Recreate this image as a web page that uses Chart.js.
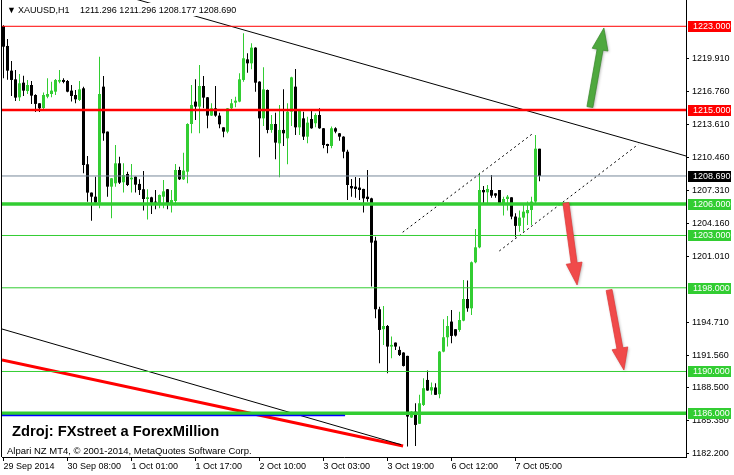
<!DOCTYPE html>
<html>
<head>
<meta charset="utf-8">
<script src="https://cdn.jsdelivr.net/npm/chart.js@4.4.1/dist/chart.umd.min.js"></script>
<style>
  html, body { margin: 0; padding: 0; background: #fff; }
</style>
</head>
<body>
<canvas id="xau" width="734" height="475"></canvas>
<script>
// XAUUSD H1 candles, one entry per bar (bar 0 = left edge)
const openP = [
  1223.03, 1221.12, 1218.76, 1217.93, 1216.21, 1217.61, 1216.81, 1217.39, 1216.43, 1215.64,
  1215.19, 1216.27, 1216.53, 1216.75, 1217.71, 1217.87, 1217.77, 1216.85, 1216.43, 1215.96,
  1217.07, 1209.81, 1207.10, 1206.71, 1206.14, 1217.23, 1212.93, 1207.67, 1207.99, 1209.90,
  1208.09, 1208.88, 1208.37, 1208.62, 1207.93, 1207.42, 1206.49, 1206.65, 1206.20, 1206.01,
  1206.71, 1207.42, 1206.08, 1206.30, 1209.26, 1208.37, 1209.10, 1213.66, 1215.80, 1215.32,
  1217.29, 1216.21, 1214.46, 1215.16, 1214.46, 1213.34, 1212.93, 1215.16, 1215.70, 1215.80,
  1217.87, 1219.84, 1219.46, 1220.96, 1217.71, 1214.20, 1216.91, 1213.09, 1213.66, 1211.81,
  1213.09, 1212.29, 1214.84, 1217.23, 1213.34, 1214.20, 1212.45, 1214.14, 1213.73, 1214.52,
  1213.25, 1211.75, 1211.56, 1213.25, 1212.77, 1212.45, 1211.01, 1207.73, 1207.67, 1207.58,
  1207.45, 1206.71, 1206.55, 1202.51, 1195.95, 1194.04, 1194.35, 1192.38, 1192.76, 1192.06,
  1191.81, 1191.49, 1185.60, 1186.16, 1185.00, 1186.80, 1189.19, 1188.18, 1188.47, 1187.83,
  1191.90, 1193.27, 1194.77, 1194.04, 1193.97, 1194.86, 1196.93, 1196.04, 1200.44, 1201.87,
  1207.35, 1207.13, 1207.35, 1207.03, 1207.35, 1206.08, 1206.49, 1206.65, 1204.81, 1203.92,
  1204.71, 1205.13, 1205.44, 1206.24, 1211.296
];
const highP = [
  1223.10, 1221.79, 1219.68, 1218.82, 1218.44, 1218.28, 1217.87, 1217.77, 1216.50, 1215.64,
  1216.66, 1218.03, 1217.71, 1217.96, 1218.82, 1218.03, 1217.87, 1217.39, 1216.91, 1217.77,
  1217.23, 1210.60, 1207.12, 1208.62, 1220.10, 1218.25, 1212.95, 1208.50, 1211.65, 1210.54,
  1209.90, 1209.10, 1209.84, 1208.65, 1208.37, 1209.17, 1207.42, 1206.70, 1207.35, 1206.92,
  1208.31, 1207.45, 1207.35, 1209.84, 1209.58, 1210.92, 1213.72, 1217.39, 1217.93, 1219.30,
  1218.25, 1216.25, 1215.64, 1217.29, 1214.74, 1213.36, 1215.20, 1216.05, 1216.27, 1218.50,
  1222.33, 1220.42, 1221.37, 1221.00, 1217.75, 1219.08, 1216.95, 1214.52, 1214.74, 1215.48,
  1216.97, 1215.64, 1218.18, 1218.92, 1215.05, 1214.84, 1214.36, 1215.00, 1214.68, 1215.16,
  1213.27, 1211.78, 1213.41, 1213.34, 1212.80, 1212.48, 1211.20, 1208.40, 1208.60, 1208.50,
  1207.47, 1209.26, 1206.60, 1202.89, 1196.20, 1196.26, 1194.45, 1193.34, 1192.76, 1192.38,
  1191.85, 1191.50, 1186.20, 1186.96, 1187.77, 1189.36, 1190.09, 1188.94, 1188.88, 1191.95,
  1194.99, 1195.31, 1195.88, 1194.04, 1195.72, 1198.75, 1198.69, 1200.51, 1203.63, 1209.01,
  1207.74, 1207.83, 1208.78, 1207.03, 1207.35, 1206.71, 1206.87, 1206.65, 1205.13, 1205.38,
  1205.92, 1206.24, 1206.71, 1212.60, 1211.296
];
const lowP = [
  1218.03, 1217.90, 1216.34, 1215.86, 1215.86, 1216.34, 1216.53, 1215.58, 1214.80, 1214.80,
  1215.06, 1216.11, 1216.21, 1216.43, 1217.55, 1217.55, 1216.70, 1215.80, 1215.64, 1215.86,
  1208.94, 1206.23, 1204.42, 1206.10, 1205.60, 1212.07, 1206.71, 1204.64, 1207.67, 1207.93,
  1207.10, 1207.73, 1207.10, 1207.10, 1206.87, 1205.38, 1204.54, 1205.06, 1205.50, 1205.60,
  1205.60, 1205.50, 1205.19, 1205.90, 1208.31, 1208.31, 1207.99, 1212.77, 1214.04, 1212.77,
  1215.16, 1213.25, 1214.43, 1214.36, 1213.25, 1212.39, 1212.77, 1215.00, 1215.25, 1215.75,
  1217.71, 1218.57, 1218.89, 1216.75, 1210.47, 1213.47, 1212.77, 1212.83, 1210.28, 1208.56,
  1211.56, 1209.81, 1213.47, 1212.61, 1212.61, 1212.13, 1211.81, 1213.20, 1213.34, 1213.20,
  1211.33, 1210.86, 1211.33, 1212.77, 1212.07, 1210.38, 1206.40, 1206.70, 1206.60, 1206.40,
  1205.19, 1206.23, 1198.12, 1195.08, 1190.79, 1192.54, 1189.83, 1191.27, 1192.06, 1191.49,
  1190.47, 1182.82, 1185.55, 1182.88, 1184.98, 1186.71, 1188.15, 1187.77, 1187.75, 1187.45,
  1191.85, 1192.38, 1192.70, 1193.34, 1193.81, 1194.80, 1195.72, 1195.40, 1200.34, 1201.78,
  1206.08, 1206.08, 1206.62, 1206.62, 1206.05, 1204.90, 1205.38, 1204.55, 1202.83, 1203.37,
  1203.37, 1204.01, 1204.01, 1206.10, 1208.177
];
const closeP = [
  1221.05, 1218.76, 1217.87, 1216.18, 1217.55, 1216.85, 1217.39, 1216.37, 1215.58, 1215.16,
  1216.43, 1216.53, 1216.85, 1217.87, 1217.87, 1217.68, 1216.75, 1216.34, 1216.02, 1216.97,
  1209.74, 1207.10, 1206.71, 1206.14, 1216.53, 1212.77, 1207.67, 1208.47, 1209.90, 1208.05,
  1208.78, 1207.83, 1208.53, 1207.86, 1207.35, 1206.49, 1206.65, 1206.14, 1206.14, 1206.87,
  1207.22, 1206.08, 1206.39, 1209.26, 1208.37, 1209.20, 1213.66, 1215.48, 1215.32, 1217.29,
  1216.18, 1214.46, 1215.16, 1214.46, 1213.63, 1212.93, 1215.16, 1215.64, 1215.89, 1217.93,
  1219.94, 1219.46, 1220.96, 1217.61, 1214.20, 1216.97, 1213.09, 1213.66, 1211.88, 1213.09,
  1212.77, 1214.84, 1218.12, 1213.34, 1215.00, 1212.45, 1213.79, 1213.25, 1214.52, 1213.25,
  1211.65, 1211.56, 1213.25, 1212.93, 1212.45, 1211.01, 1207.83, 1207.51, 1207.45, 1207.35,
  1206.55, 1206.49, 1202.32, 1195.95, 1193.97, 1194.35, 1192.38, 1192.54, 1192.38, 1191.58,
  1190.53, 1185.69, 1186.16, 1184.89, 1186.96, 1188.40, 1188.18, 1188.50, 1187.77, 1191.90,
  1193.27, 1194.35, 1193.40, 1193.43, 1194.92, 1196.93, 1196.04, 1200.44, 1201.87, 1207.35,
  1207.13, 1207.45, 1206.81, 1206.81, 1206.08, 1206.49, 1206.71, 1204.81, 1203.92, 1204.71,
  1205.28, 1205.44, 1206.24, 1211.30, 1208.69
];

// time axis: bar index of each label and its text
const timeTickBars = [0, 16, 32, 48, 64, 80, 96, 112, 128];
const timeTickLabels = ['29 Sep 2014', '30 Sep 08:00', '1 Oct 01:00', '1 Oct 17:00', '2 Oct 10:00',
  '3 Oct 03:00', '3 Oct 19:00', '6 Oct 12:00', '7 Oct 05:00'];
const priceTicks = [1219.91, 1216.76, 1213.61, 1210.46, 1207.31, 1204.16, 1201.01,
  1194.71, 1191.56, 1188.50, 1185.35, 1182.20];

// horizontal levels drawn on the chart
const resistLevels = [1223, 1215];
const supportLevels = [1206, 1203, 1198, 1190, 1186];
const bidPrice = 1208.69;
const blueLevel = 1185.79;
const blueLevelEnd = 85.4;

// trend lines, [bar, price] pairs
const upperTrend = [[30, 1225.93], [170.625, 1210.60]];
const lowerTrendBlack = [[-0.375, 1194.06], [99.4, 1183.0]];
const lowerTrendRed = [[-0.375, 1191.10], [99.9, 1182.88]];
const channelTop = [[99.8, 1203.31], [132.05, 1212.67]];
const channelBottom = [[123.95, 1201.52], [158.7, 1211.72]];

// arrows, [tail, tip] as [bar, price]
const arrowUp = [[146.6, 1215.28], [150.1, 1222.84]];
const arrowDown1 = [[140.6, 1206.11], [143.4, 1198.27]];
const arrowDown2 = [[151.4, 1197.79], [155.1, 1190.14]];

const X_MIN = -0.375, X_MAX = 170.625;
const Y_MIN = 1181.824, Y_MAX = 1225.514;
const LIME = '#32cd32';
const FONT = 'Liberation Sans, Arial, sans-serif';

const bars = openP.map((o, i) => i);
const candleColor = bars.map(i => closeP[i] >= openP[i] ? LIME : '#000000');

function hLine(price, color, width, x0, x1) {
  return {
    type: 'line', data: [{x: x0 ?? X_MIN, y: price}, {x: x1 ?? X_MAX, y: price}],
    borderColor: color, borderWidth: width, pointRadius: 0, fill: false, order: 0
  };
}
function seg(pts, color, width, dash) {
  return {
    type: 'line', data: pts.map(p => ({x: p[0], y: p[1]})),
    borderColor: color, borderWidth: width, borderDash: dash || [], pointRadius: 0, fill: false, order: 0
  };
}

const lineSets = [
  hLine(resistLevels[0], '#ff0000', 1),
  hLine(resistLevels[1], '#ff0000', 2.5),
  hLine(bidPrice, '#778899', 1),
  hLine(supportLevels[0], LIME, 3.5),
  hLine(supportLevels[1], LIME, 1),
  hLine(supportLevels[2], LIME, 1),
  hLine(supportLevels[3], LIME, 1),
  hLine(blueLevel, '#0000ff', 1.5, X_MIN, blueLevelEnd),
  hLine(supportLevels[4], LIME, 3.5),
  seg(upperTrend, '#000', 1),
  seg(lowerTrendBlack, '#000', 1),
  seg(lowerTrendRed, '#ff0000', 3),
  seg(channelTop, '#000', 1, [2, 3]),
  seg(channelBottom, '#000', 1, [2, 3])
];

function drawArrow(ctx, xs, ys, pts, color, edge) {
  const x0 = xs.getPixelForValue(pts[0][0]), y0 = ys.getPixelForValue(pts[0][1]);
  const x1 = xs.getPixelForValue(pts[1][0]), y1 = ys.getPixelForValue(pts[1][1]);
  const len = Math.hypot(x1 - x0, y1 - y0);
  const a = Math.atan2(y1 - y0, x1 - x0);
  const headL = 22, headW = 8, shaftW = 3;
  ctx.save();
  ctx.translate(x0, y0);
  ctx.rotate(a);
  ctx.shadowColor = 'rgba(0,0,0,0.3)';
  ctx.shadowBlur = 3;
  ctx.shadowOffsetX = 1;
  ctx.shadowOffsetY = 1;
  ctx.beginPath();
  ctx.moveTo(0, -shaftW);
  ctx.lineTo(len - headL, -shaftW);
  ctx.lineTo(len - headL, -headW);
  ctx.lineTo(len, 0);
  ctx.lineTo(len - headL, headW);
  ctx.lineTo(len - headL, shaftW);
  ctx.lineTo(0, shaftW);
  ctx.closePath();
  ctx.fillStyle = color;
  ctx.fill();
  ctx.shadowColor = 'transparent';
  ctx.strokeStyle = edge;
  ctx.lineWidth = 0.7;
  ctx.stroke();
  ctx.restore();
}

const mt4Extras = {
  id: 'mt4Extras',
  afterDatasetsDraw(chart) {
    const {ctx, chartArea, scales: {x, y}} = chart;
    ctx.save();
    ctx.beginPath();
    ctx.rect(chartArea.left, chartArea.top, chartArea.right - chartArea.left, chartArea.bottom - chartArea.top);
    ctx.clip();
    drawArrow(ctx, x, y, arrowUp, '#4ea83e', '#3b8a2d');
    drawArrow(ctx, x, y, arrowDown1, '#f04a4a', '#e03a3a');
    drawArrow(ctx, x, y, arrowDown2, '#f04a4a', '#e03a3a');
    ctx.restore();
  },
  afterDraw(chart) {
    const {ctx, chartArea, scales: {y}} = chart;
    ctx.save();
    // left frame
    ctx.strokeStyle = '#000';
    ctx.lineWidth = 1;
    ctx.beginPath();
    ctx.moveTo(1.5, 0);
    ctx.lineTo(1.5, chartArea.bottom);
    ctx.stroke();

    // header
    ctx.fillStyle = '#fff';
    ctx.fillRect(16, 3, 226, 13);
    ctx.fillStyle = '#000';
    ctx.font = '9px ' + FONT;
    ctx.textBaseline = 'alphabetic';
    ctx.fillText('\u25BC', 7, 13);
    ctx.fillText('XAUUSD,H1', 18, 13);
    ctx.fillText([openP[134], highP[134], lowP[134], closeP[134]].map(v => v.toFixed(3)).join(' '), 80, 13);

    // price tags on the axis
    const tag = (price, bg, fg) => {
      const py = Math.round(y.getPixelForValue(price));
      ctx.fillStyle = bg;
      ctx.fillRect(chartArea.right + 2, py - 5, 43, 11);
      ctx.fillStyle = fg;
      ctx.textBaseline = 'middle';
      ctx.fillText(price.toFixed(3), chartArea.right + 7, py + 0.5);
    };
    resistLevels.forEach(p => tag(p, '#ff0000', '#fff'));
    tag(bidPrice, '#000', '#fff');
    supportLevels.forEach(p => tag(p, LIME, '#fff'));

    // source texts
    ctx.fillStyle = '#000';
    ctx.textBaseline = 'alphabetic';
    ctx.font = 'bold 14.7px ' + FONT;
    ctx.fillText('Zdroj: FXstreet a ForexMillion', 12, 436);
    ctx.font = '9.5px ' + FONT;
    ctx.fillText('Alpari NZ MT4, \u00A9 2001-2014, MetaQuotes Software Corp.', 7, 454);
    ctx.restore();
  }
};

new Chart(document.getElementById('xau'), {
  type: 'bar',
  data: {
    datasets: [
      ...lineSets,
      {
        type: 'bar', label: 'body',
        data: bars.map(i => ({x: i, y: [openP[i], closeP[i]]})),
        backgroundColor: candleColor, barThickness: 3, minBarLength: 1,
        grouped: false, inflateAmount: 0, borderWidth: 0, order: 1
      },
      {
        type: 'bar', label: 'wick',
        data: bars.map(i => ({x: i, y: [lowP[i], highP[i]]})),
        backgroundColor: candleColor, barThickness: 1,
        grouped: false, inflateAmount: 0, borderWidth: 0, order: 2
      }
    ]
  },
  options: {
    responsive: false,
    animation: false,
    devicePixelRatio: 1,
    events: [],
    layout: { padding: { left: 2, top: 0, right: 0, bottom: 0 }, autoPadding: false },
    plugins: { legend: { display: false }, tooltip: { enabled: false } },
    scales: {
      x: {
        type: 'linear', min: X_MIN, max: X_MAX, offset: false,
        afterBuildTicks: s => { s.ticks = timeTickBars.map(v => ({value: v})); },
        afterFit: s => { s.height = 18; s.paddingLeft = 0; s.paddingRight = 0; },
        ticks: {
          callback: v => timeTickLabels[timeTickBars.indexOf(v)],
          align: 'start', maxRotation: 0, autoSkip: false, padding: 0,
          color: '#000', font: { family: FONT, size: 9 }
        },
        grid: { drawOnChartArea: false, tickLength: 4, color: '#000', offset: false },
        border: { color: '#000' }
      },
      y: {
        position: 'right', min: Y_MIN, max: Y_MAX,
        afterBuildTicks: s => { s.ticks = priceTicks.map(v => ({value: v})); },
        afterFit: s => { s.width = 48; s.paddingTop = 0; s.paddingBottom = 0; },
        ticks: {
          callback: v => v.toFixed(3), autoSkip: false, padding: 3,
          color: '#000', font: { family: FONT, size: 9 }
        },
        grid: { drawOnChartArea: false, tickLength: 3, color: '#000' },
        border: { color: '#000' }
      }
    }
  },
  plugins: [mt4Extras]
});
</script>
</body>
</html>
